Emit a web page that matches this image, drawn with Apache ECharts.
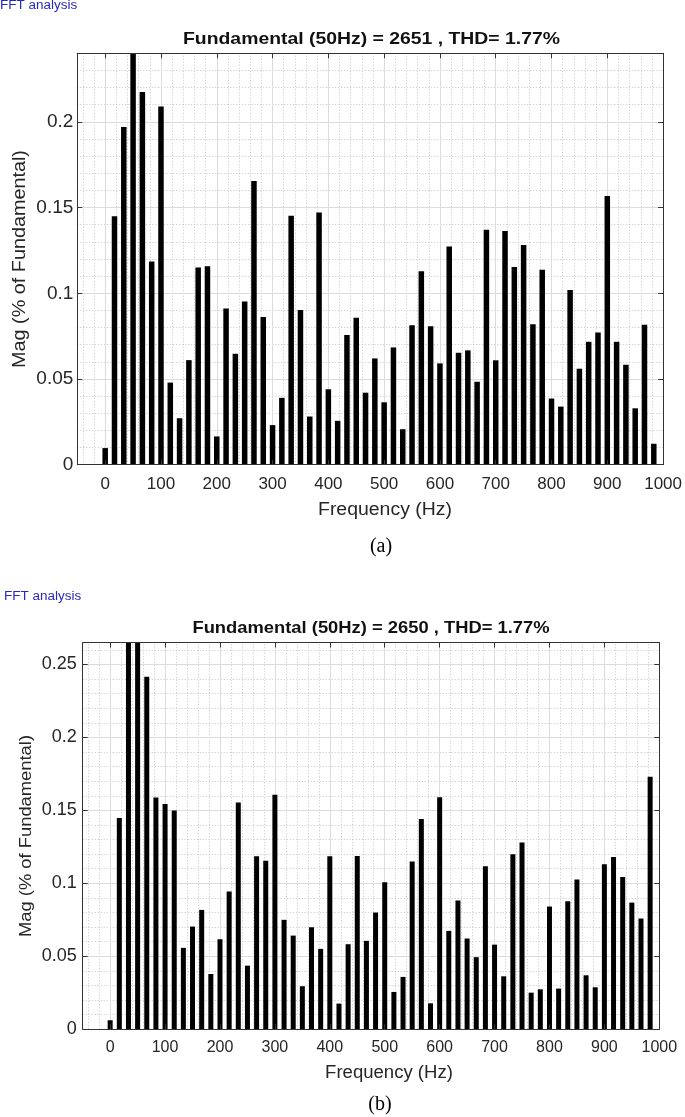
<!DOCTYPE html>
<html>
<head>
<meta charset="utf-8">
<script src="https://cdn.jsdelivr.net/npm/echarts@6/dist/echarts.min.js"></script>
<style>
html,body{margin:0;padding:0;background:#fff;}
#chart{width:685px;height:1117px;}
</style>
</head>
<body>
<div id="chart"></div>
<script>
// ---- data ----
const freqHz = [0, 16.67, 33.33, 50, 66.67, 83.33, 100, 116.67, 133.33, 150,
  166.67, 183.33, 200, 216.67, 233.33, 250, 266.67, 283.33, 300, 316.67,
  333.33, 350, 366.67, 383.33, 400, 416.67, 433.33, 450, 466.67, 483.33,
  500, 516.67, 533.33, 550, 566.67, 583.33, 600, 616.67, 633.33, 650,
  666.67, 683.33, 700, 716.67, 733.33, 750, 766.67, 783.33, 800, 816.67,
  833.33, 850, 866.67, 883.33, 900, 916.67, 933.33, 950, 966.67, 983.33];

const magA = [0.0097, 0.145, 0.197, 100, 0.2174, 0.1186, 0.209, 0.0479, 0.0271, 0.061,
  0.1151, 0.1157, 0.0165, 0.0911, 0.0647, 0.0952, 0.1655, 0.0862, 0.0231, 0.039,
  0.1453, 0.0903, 0.0281, 0.1471, 0.044, 0.0256, 0.0756, 0.0857, 0.042, 0.062,
  0.0364, 0.0684, 0.0207, 0.0814, 0.1128, 0.0808, 0.0591, 0.1273, 0.0653, 0.0667,
  0.0484, 0.137, 0.0609, 0.1364, 0.1153, 0.1281, 0.082, 0.1138, 0.0386, 0.0339,
  0.1019, 0.056, 0.0717, 0.0771, 0.1568, 0.0717, 0.0583, 0.0329, 0.0816, 0.0122];

const magB = [0.0062, 0.1447, 0.3, 100, 0.2415, 0.1588, 0.1543, 0.1499, 0.0558, 0.0704,
  0.0818, 0.0379, 0.0617, 0.0944, 0.1554, 0.0436, 0.1186, 0.1154, 0.1607, 0.075,
  0.0642, 0.0295, 0.0699, 0.0551, 0.1186, 0.0176, 0.0583, 0.1188, 0.0606, 0.08,
  0.1008, 0.0256, 0.0359, 0.1149, 0.144, 0.0178, 0.159, 0.0674, 0.0882, 0.0622,
  0.0494, 0.1117, 0.058, 0.0363, 0.12, 0.128, 0.0251, 0.0274, 0.0841, 0.0279,
  0.0878, 0.1026, 0.037, 0.0288, 0.1131, 0.1181, 0.1044, 0.0868, 0.0759, 0.173];

// ---- ticks ----
const xTicks = [0, 100, 200, 300, 400, 500, 600, 700, 800, 900, 1000];
const yTicksA = [0, 0.05, 0.1, 0.15, 0.2];
const yTicksB = [0, 0.05, 0.1, 0.15, 0.2, 0.25];

// ---- text ----
const headerText = 'FFT analysis';
const titleA = 'Fundamental (50Hz) = 2651 , THD= 1.77%';
const titleB = 'Fundamental (50Hz) = 2650 , THD= 1.77%';
const xName = 'Frequency (Hz)';
const yName = 'Mag (% of Fundamental)';
const captionA = '(a)';
const captionB = '(b)';

// minor grid positions (every 20 Hz / 0.01), excluding major positions
function minorList(lo, hi, step, majorStep) {
  const out = [];
  for (let k = Math.round(lo / step); k * step <= hi + 1e-9; k++) {
    const v = +(k * step).toFixed(4);
    if (Math.abs(v / majorStep - Math.round(v / majorStep)) > 1e-6) out.push(v);
  }
  return out;
}
const xMinor = minorList(-40, 980, 20, 100);
const yMinorA = minorList(0.01, 0.23, 0.01, 0.05);
const yMinorB = minorList(0.01, 0.26, 0.01, 0.05);

const FONT = '"Liberation Sans", Arial, Helvetica, sans-serif';
const AX = '#333333';
const majorStyle = { color: '#dcdcdc', width: 1, type: 'solid' };
const minorStyle = { color: '#c4c4c4', width: 1, type: [1, 2] };

function gridLines(yMajor, yMinor) {
  const d = [];
  xMinor.forEach(v => d.push({ xAxis: v, lineStyle: minorStyle }));
  yMinor.forEach(v => d.push({ yAxis: v, lineStyle: minorStyle }));
  xTicks.filter(v => v < 1000).forEach(v => d.push({ xAxis: v, lineStyle: majorStyle }));
  yMajor.filter(v => v > 0).forEach(v => d.push({ yAxis: v, lineStyle: majorStyle }));
  return d;
}

function xAxes(gi, fontSize, margin) {
  return [{
    gridIndex: gi, type: 'value', min: -50, max: 1000, position: 'bottom', z: 5,
    axisLine: { show: true, onZero: false, lineStyle: { color: AX, width: 1 } },
    axisTick: { show: true, inside: true, length: 5, customValues: xTicks, lineStyle: { color: AX } },
    axisLabel: { show: true, customValues: xTicks, fontSize: fontSize, fontFamily: FONT, color: '#262626', margin: margin,
      formatter: v => String(v) },
    splitLine: { show: false }
  }, {
    gridIndex: gi, type: 'value', min: -50, max: 1000, position: 'top', z: 5,
    axisLine: { show: true, onZero: false, lineStyle: { color: AX, width: 1 } },
    axisTick: { show: true, inside: true, length: 5, customValues: xTicks, lineStyle: { color: AX } },
    axisLabel: { show: false },
    splitLine: { show: false }
  }];
}
function yAxes(gi, max, ticks, fontSize, margin) {
  return [{
    gridIndex: gi, type: 'value', min: 0, max: max, position: 'left', z: 5,
    axisLine: { show: true, onZero: false, lineStyle: { color: AX, width: 1 } },
    axisTick: { show: true, inside: true, length: 5, customValues: ticks, lineStyle: { color: AX } },
    axisLabel: { show: true, customValues: ticks, fontSize: fontSize, fontFamily: FONT, color: '#262626', margin: margin,
      formatter: v => String(v) },
    splitLine: { show: false }
  }, {
    gridIndex: gi, type: 'value', min: 0, max: max, position: 'right', z: 5,
    axisLine: { show: true, onZero: false, lineStyle: { color: AX, width: 1 } },
    axisTick: { show: true, inside: true, length: 5, customValues: ticks, lineStyle: { color: AX } },
    axisLabel: { show: false },
    splitLine: { show: false }
  }];
}

function barSeries(xi, yi, mags, yMajor, yMinor, bw) {
  return {
    type: 'bar', xAxisIndex: xi, yAxisIndex: yi, barWidth: bw, clip: true, z: 3,
    itemStyle: { color: '#000000' },
    data: freqHz.map((f, i) => [f, mags[i]]),
    markLine: {
      silent: true, z: 1, symbol: ['none', 'none'], animation: false,
      label: { show: false }, emphasis: { disabled: true },
      data: gridLines(yMajor, yMinor)
    }
  };
}

function txt(x, y, text, opts) {
  return Object.assign({
    type: 'text', x: x, y: y, silent: true,
    style: Object.assign({ text: text, fill: '#000', textAlign: 'center', textVerticalAlign: 'middle', fontFamily: FONT }, opts.style)
  }, opts.el || {});
}

const chart = echarts.init(document.getElementById('chart'), null, { renderer: 'canvas' });
chart.setOption({
  animation: false,
  backgroundColor: '#ffffff',
  grid: [
    { left: 77.3, top: 53.3, width: 588.7, height: 411.4, containLabel: false },
    { left: 82.7, top: 642.5, width: 576.6, height: 386.8, containLabel: false }
  ],
  xAxis: xAxes(0, 17, 11).concat(xAxes(1, 16, 10)),
  yAxis: yAxes(0, 0.24, yTicksA, 19, 4).concat(yAxes(1, 0.265, yTicksB, 18, 6)),
  series: [
    barSeries(0, 0, magA, yTicksA, yMinorA, 5.5),
    barSeries(2, 2, magB, yTicksB, yMinorB, 5)
  ],
  graphic: [
    txt(0, 6, headerText, { style: { textAlign: 'left', fontSize: 12.5, fill: '#2828c0' }, el: { scaleX: 1.08 } }),
    txt(371.5, 39.5, titleA, { style: { fontSize: 17, fontWeight: 'bold', fill: '#111' }, el: { scaleX: 1.14 } }),
    txt(385, 510, xName, { style: { fontSize: 18, fill: '#262626' }, el: { scaleX: 1.08 } }),
    txt(20, 259, yName, { style: { fontSize: 18, fill: '#262626' }, el: { rotation: Math.PI / 2, scaleX: 1.1 } }),
    txt(381, 547, captionA, { style: { fontSize: 20, fontFamily: '"Liberation Serif", "Times New Roman", serif', fill: '#000' } }),

    txt(4, 597, headerText, { style: { textAlign: 'left', fontSize: 12.5, fill: '#2828c0' }, el: { scaleX: 1.08 } }),
    txt(371, 628.5, titleB, { style: { fontSize: 17, fontWeight: 'bold', fill: '#111' }, el: { scaleX: 1.08 } }),
    txt(389, 1073, xName, { style: { fontSize: 18, fill: '#262626' }, el: { scaleX: 1.03 } }),
    txt(26, 836, yName, { style: { fontSize: 17, fill: '#262626' }, el: { rotation: Math.PI / 2, scaleX: 1.08 } }),
    txt(380, 1105, captionB, { style: { fontSize: 20, fontFamily: '"Liberation Serif", "Times New Roman", serif', fill: '#000' } })
  ]
});
</script>
</body>
</html>
